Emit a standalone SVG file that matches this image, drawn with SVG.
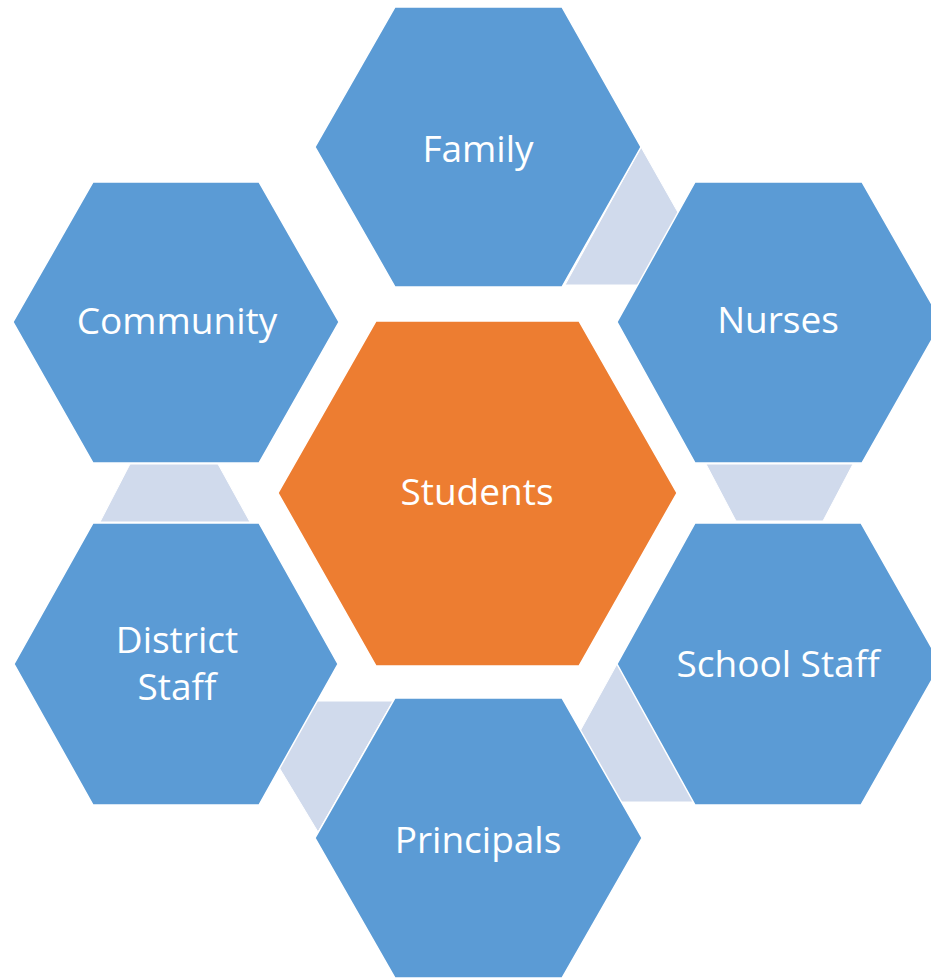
<svg xmlns="http://www.w3.org/2000/svg" width="931" height="979" viewBox="0 0 931 979">
  <style>
    .hex { fill: #5B9BD5; stroke: #ffffff; stroke-width: 1.5; stroke-linejoin: miter; }
    .hub { fill: #ED7D31; stroke: #ffffff; stroke-width: 1.5; }
    .link { fill: #D0DAEC; stroke: #ffffff; stroke-width: 1; }
    .label { fill: #ffffff; font-family: "Open Sans", "Noto Sans", sans-serif; font-size: 37px; text-anchor: middle; }
  </style>
  <rect width="931" height="979" fill="#ffffff"/>

  <!-- connector shapes sit behind the hexagons -->
  <g id="connectors">
    <polygon class="link" points="641,147 719,285 565,285"/>
    <polygon class="link" points="706,464 853,464 823,521 736,521"/>
    <polygon class="link" points="617,664 541,802 700,802"/>
    <polygon class="link" points="239,701 393,701 318,832"/>
    <polygon class="link" points="130,464 218,464 250,522 100,522"/>
  </g>

  <g id="family">
    <polygon class="hex" points="315,147 395,7 562,7 641,147 562,287 395,287"/>
    <text class="label" x="478" y="162">Family</text>
  </g>

  <g id="nurses">
    <polygon class="hex" points="617,322 695,182 862,182 942,322 862,463 695,463"/>
    <text class="label" x="778" y="333">Nurses</text>
  </g>

  <g id="community">
    <polygon class="hex" points="13,322 93,182 259,182 339,322 259,463 93,463"/>
    <text class="label" x="177" y="334">Community</text>
  </g>

  <g id="students">
    <polygon class="hub" points="278,493 376,321 579,321 677,493 579,666 376,666"/>
    <text class="label" x="477" y="505">Students</text>
  </g>

  <g id="school-staff">
    <polygon class="hex" points="617,664 695,523 861,523 941,664 861,805 695,805"/>
    <text class="label" x="778" y="677">School Staff</text>
  </g>

  <g id="district-staff">
    <polygon class="hex" points="14,664 93,523 259,523 338,664 259,805 93,805"/>
    <text class="label" x="177" y="653">District</text>
    <text class="label" x="177" y="700">Staff</text>
  </g>

  <g id="principals">
    <polygon class="hex" points="315,838 395,698 562,698 642,838 562,978 395,978"/>
    <text class="label" x="478" y="853">Principals</text>
  </g>
</svg>
